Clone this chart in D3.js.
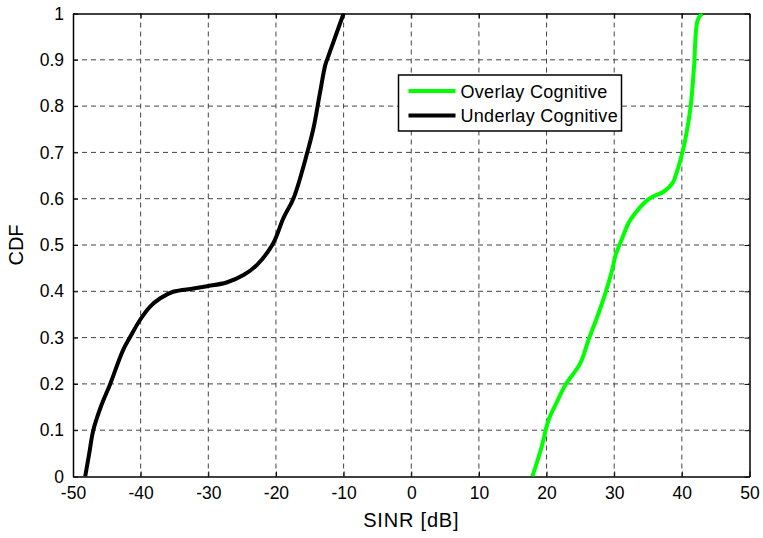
<!DOCTYPE html>
<html>
<head>
<meta charset="utf-8">
<script src="https://cdn.jsdelivr.net/npm/d3@7"></script>
<style>
body { margin: 0; background: #fff; }
text { font-family: "Liberation Sans", Arial, Helvetica, sans-serif; }
</style>
</head>
<body>
<div id="chart"></div>
<script>
var overlayX = [17.9, 19.2, 20.3, 21.5, 22.8, 25.0, 26.2, 27.5, 28.7, 29.7, 30.2, 31.2, 32.1, 32.9, 34.9, 35.8, 37.3, 38.6, 39.2, 39.8, 40.5, 41.3, 41.8, 42.35, 43.0];
var overlayY = [0, 0.06, 0.122, 0.16, 0.198, 0.245, 0.295, 0.345, 0.396, 0.446, 0.478, 0.515, 0.547, 0.565, 0.597, 0.605, 0.615, 0.633, 0.655, 0.684, 0.727, 0.799, 0.885, 0.986, 1.0];

var underlayX = [-48.2, -47.6, -47.0, -45.9, -44.5, -42.6, -41.6, -40.1, -38.6, -37.1, -35.2, -32.2, -30.2, -27.3, -24.8, -22.8, -20.4, -18.9, -17.4, -15.4, -14.4, -13.5, -12.7, -12.2, -10.0];
var underlayY = [0, 0.05, 0.1, 0.15, 0.2, 0.273, 0.30, 0.338, 0.367, 0.385, 0.399, 0.406, 0.411, 0.419, 0.435, 0.457, 0.504, 0.558, 0.601, 0.698, 0.756, 0.828, 0.889, 0.91, 1.0];

var xTicks = [-50, -40, -30, -20, -10, 0, 10, 20, 30, 40, 50];
var yTicks = [0, 0.1, 0.2, 0.3, 0.4, 0.5, 0.6, 0.7, 0.8, 0.9, 1];

var seriesNames = ["Overlay Cognitive", "Underlay Cognitive"];
var seriesColors = ["#00ff00", "#000000"];

var W = 763, H = 538;
var margin = { top: 13.5, left: 73, right: 13.5, bottom: 61.5 };
var width = W - margin.left - margin.right,
    height = H - margin.top - margin.bottom;

var svg = d3.select("#chart").append("svg")
    .attr("width", W)
    .attr("height", H);

var g = svg.append("g")
    .attr("transform", "translate(" + margin.left + "," + margin.top + ")");

var x = d3.scaleLinear().domain([-50, 50]).range([0, width]);
var y = d3.scaleLinear().domain([0, 1]).range([height, 0]);

// grid lines
g.append("g").selectAll("line")
    .data(xTicks.slice(1, -1))
    .enter().append("line")
    .attr("x1", function(d) { return x(d); })
    .attr("x2", function(d) { return x(d); })
    .attr("y1", 0).attr("y2", height)
    .attr("stroke", "#444")
    .attr("stroke-width", 1)
    .attr("stroke-dasharray", "5,4");

g.append("g").selectAll("line")
    .data(yTicks.slice(1, -1))
    .enter().append("line")
    .attr("y1", function(d) { return y(d); })
    .attr("y2", function(d) { return y(d); })
    .attr("x1", 0).attr("x2", width)
    .attr("stroke", "#444")
    .attr("stroke-width", 1)
    .attr("stroke-dasharray", "5,4");

// axes, ticks pointing inward like matlab
var xAxis = g.append("g")
    .attr("transform", "translate(0," + height + ")")
    .call(d3.axisBottom(x).tickValues(xTicks).tickSizeInner(-5).tickSizeOuter(0).tickPadding(10)
        .tickFormat(function(d) { return String(d); }));
var xTop = g.append("g")
    .call(d3.axisTop(x).tickValues(xTicks).tickSizeInner(-5).tickSizeOuter(0).tickFormat(""));
var yAxis = g.append("g")
    .call(d3.axisLeft(y).tickValues(yTicks).tickSizeInner(-5).tickSizeOuter(0).tickPadding(9)
        .tickFormat(function(d) { return String(d); }));
var yRight = g.append("g")
    .attr("transform", "translate(" + width + ",0)")
    .call(d3.axisRight(y).tickValues(yTicks).tickSizeInner(-5).tickSizeOuter(0).tickFormat(""));

[xAxis, xTop, yAxis, yRight].forEach(function(a) {
    a.select(".domain").attr("stroke", "#000").attr("stroke-width", 1.5);
    a.selectAll(".tick line").attr("stroke", "#000");
    a.selectAll("text")
        .attr("fill", "#000")
        .style("font-size", "17.5px");
});

// curves
var line = d3.line()
    .x(function(d) { return x(d[0]); })
    .y(function(d) { return y(d[1]); })
    .curve(d3.curveCatmullRom.alpha(0.5));

var clip = g.append("clipPath").attr("id", "clip")
    .append("rect").attr("width", width).attr("height", height);

var plot = g.append("g").attr("clip-path", "url(#clip)");

var overlay = d3.zip(overlayX, overlayY);
var underlay = d3.zip(underlayX, underlayY);

plot.append("path")
    .datum(underlay)
    .attr("d", line)
    .attr("fill", "none")
    .attr("stroke", seriesColors[1])
    .attr("stroke-width", 4)
    .attr("stroke-linejoin", "round");

plot.append("path")
    .datum(overlay)
    .attr("d", line)
    .attr("fill", "none")
    .attr("stroke", seriesColors[0])
    .attr("stroke-width", 4)
    .attr("stroke-linejoin", "round");

// axis titles
svg.append("text")
    .attr("x", margin.left + width / 2)
    .attr("y", 527)
    .attr("text-anchor", "middle")
    .style("font-size", "20px")
    .style("letter-spacing", "0.8px")
    .text("SINR [dB]");

svg.append("text")
    .attr("transform", "translate(23," + (margin.top + height / 2) + ") rotate(-90)")
    .attr("text-anchor", "middle")
    .style("font-size", "20px")
    .text("CDF");

// legend
var legend = svg.append("g").attr("transform", "translate(398.5,75)");
legend.append("rect")
    .attr("width", 223).attr("height", 56)
    .attr("fill", "#fff")
    .attr("stroke", "#000")
    .attr("stroke-width", 1.5);

seriesNames.forEach(function(name, i) {
    var ly = 16 + i * 24.5;
    legend.append("line")
        .attr("x1", 10).attr("x2", 57)
        .attr("y1", ly).attr("y2", ly)
        .attr("stroke", seriesColors[i])
        .attr("stroke-width", 4);
    legend.append("text")
        .attr("x", 62).attr("y", ly + 6.5)
        .style("font-size", "18px")
        .style("letter-spacing", "0.3px")
        .text(name);
});
</script>
</body>
</html>
